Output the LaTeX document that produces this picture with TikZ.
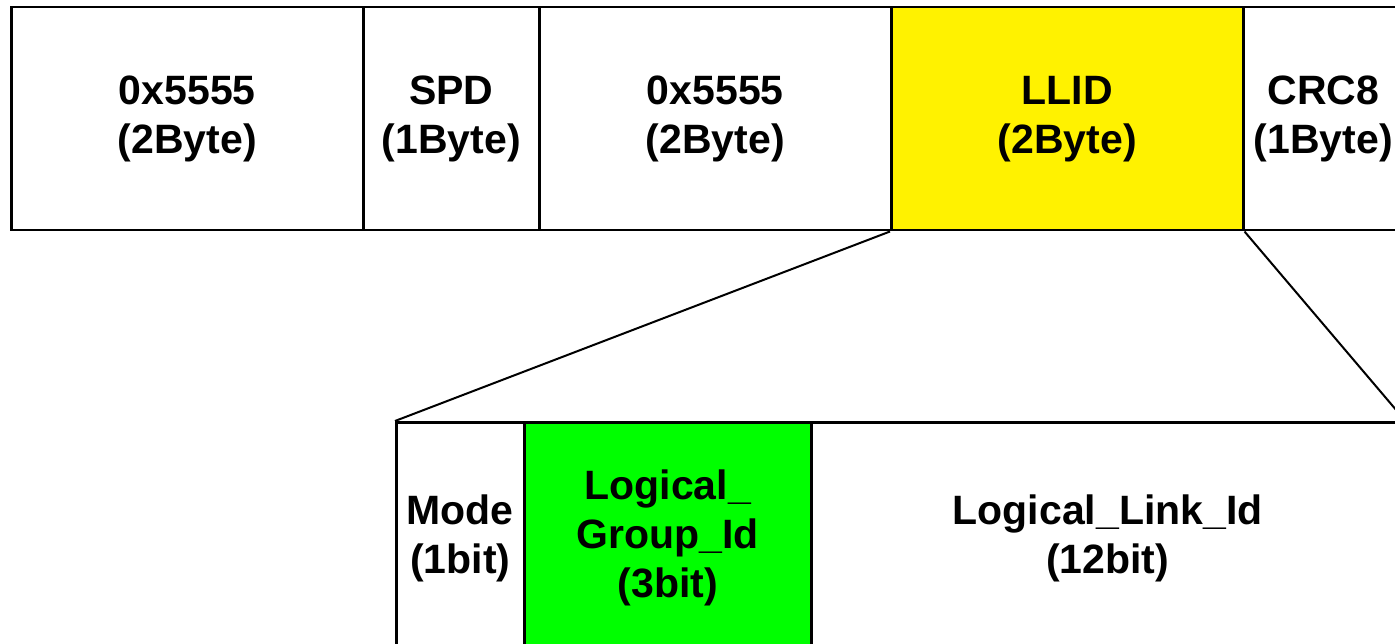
\documentclass[tikz,border=0pt]{standalone}
\usepackage{fontspec}
\setmainfont{Liberation Sans}
\begin{document}
\begin{tikzpicture}[x=1pt,y=-1pt,
  field/.style={draw=black, line width=2.5pt, rectangle, inner sep=0pt, align=center,
    font=\bfseries\fontsize{41}{49}\selectfont, anchor=north west},
  zoomline/.style={draw=black, line width=2pt}]
\useasboundingbox (0,0) rectangle (1395,644);
\clip (0,0) rectangle (1395,644);
% top row
\node[field, minimum width=352pt, minimum height=223pt] (a) at (10,6) {0x5555\\(2Byte)};
\node[field, minimum width=176pt, minimum height=223pt] (b) at (362,6) {SPD\\(1Byte)};
\node[field, minimum width=352pt, minimum height=223pt] (c) at (538,6) {0x5555\\(2Byte)};
\node[field, minimum width=352pt, minimum height=223pt, fill=yellow] (d) at (890,6) {LLID\\(2Byte)};
\node[field, minimum width=160pt, minimum height=223pt] (e) at (1242,6) {CRC8\\(1Byte)};
% bottom row
\node[field, minimum width=128pt, minimum height=232pt] (f) at (395,421) {Mode\\(1bit)};
\node[field, minimum width=287pt, minimum height=232pt, fill=green] (g) at (523,421) {Logical\_\\Group\_Id\\(3bit)};
\node[field, minimum width=593pt, minimum height=232pt] (h) at (810,421) {Logical\_Link\_Id\\(12bit)};
% zoom lines
\draw[zoomline] (d.south west) -- (f.north west);
\draw[zoomline] (d.south east) -- (h.north east);
\end{tikzpicture}
\end{document}
